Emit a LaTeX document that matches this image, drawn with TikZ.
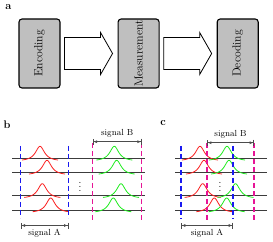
\documentclass[tikz,border=0pt]{standalone}
\usepackage{graphicx}
\usepackage{tikz}
\usetikzlibrary{arrows.meta, positioning, calc}
\definecolor{pulser}{RGB}{250,30,30}
\definecolor{pulseg}{RGB}{30,235,30}
\definecolor{edgeb}{RGB}{25,25,240}
\definecolor{edgem}{RGB}{230,20,150}
\definecolor{railc}{RGB}{60,60,60}
\newcommand{\pulse}[3]{%
  \draw[#3, line width=0.8pt] plot[domain=-18:18, samples=61, smooth]
    ({#1+\x}, {#2-3+15/(1+(\x/5.5)^2)});}
\tikzset{
  stage/.style={draw=black, line width=1.1pt, fill=black!25, rounded corners=3pt,
    minimum width=41pt, minimum height=69pt, inner sep=0pt,
    font=\fontsize{11.7}{14}\selectfont},
  flow/.style={draw=black, line width=0.8pt, fill=white},
  rail/.style={railc, line width=0.9pt},
  edgeA/.style={edgeb, line width=1.2pt, dash pattern=on 5pt off 3pt},
  edgeB/.style={edgem, line width=1.2pt, dash pattern=on 5pt off 3pt},
  span/.style={black!70, line width=0.8pt,
    {Bar[width=6pt]Latex[length=3.5pt,width=3pt]}-{Latex[length=3.5pt,width=3pt]Bar[width=6pt]}},
  spanlabel/.style={text=black, font=\fontsize{8.8}{10}\selectfont},
  panel/.style={font=\fontsize{11}{13}\selectfont\bfseries, anchor=base}
}
\begin{document}
\begin{tikzpicture}[x=1pt, y=1pt]
  \useasboundingbox (0,0) rectangle (273,241);
  % a
  \node[panel] (pa) at (8.3,231.7) {a};
  \node[stage] (enc) at (39.5,187.5) {\rotatebox{90}{Encoding}};
  \node[stage, right=57pt of enc] (meas) {\rotatebox{90}{Measurement}};
  \node[stage, right=57pt of meas] (dec) {\rotatebox{90}{Decoding}};
  \draw[flow] ($(enc.east)+(4,16)$) -- ++(36,0) -- ++(0,5) -- ++(12,-21)
    -- ++(-12,-21) -- ++(0,5) -- ++(-36,0) -- cycle;
  \draw[flow] ($(meas.east)+(4,16)$) -- ++(36,0) -- ++(0,5) -- ++(12,-21)
    -- ++(-12,-21) -- ++(0,5) -- ++(-36,0) -- cycle;
  % b
  \node[panel] (pb) at (7,112) {b};
  \foreach \y in {82.7,68.7,45.3,31} \draw[rail] (12,\y) -- (145,\y);
  \pulse{40}{82.7}{pulser}
  \pulse{47}{68.7}{pulser}
  \pulse{42.3}{45.3}{pulser}
  \pulse{50.7}{31}{pulser}
  \pulse{114.3}{82.7}{pulseg}
  \pulse{116.7}{68.7}{pulseg}
  \pulse{121}{45.3}{pulseg}
  \pulse{113.3}{31}{pulseg}
  \node (bdots) at (80,57) {$\vdots$};
  \draw[edgeA] (20.7,95) -- (20.7,23);
  \draw[edgeA] (68.3,95) -- (68.3,23);
  \draw[edgeB] (92.7,98) -- (92.7,20);
  \draw[edgeB] (141.7,98) -- (141.7,20);
  \coordinate (bA1) at (20.7,15.5);
  \coordinate (bA2) at (68.3,15.5);
  \coordinate (bB1) at (92.7,99.3);
  \coordinate (bB2) at (141.7,99.3);
  \draw[span] (bA1) -- (bA2) node[spanlabel, midway, yshift=-7.5pt] {signal A};
  \draw[span] (bB1) -- (bB2) node[spanlabel, midway, yshift=8pt] {signal B};
  % c
  \node[panel] (pc) at (163,115) {c};
  \foreach \y in {82.7,68.7,45.3,31} \draw[rail] (175,\y) -- (267.3,\y);
  \pulse{200}{82.7}{pulser}
  \pulse{204}{68.7}{pulser}
  \pulse{202.7}{45.3}{pulser}
  \pulse{214.3}{31}{pulser}
  \pulse{227}{82.7}{pulseg}
  \pulse{229}{68.7}{pulseg}
  \pulse{235.5}{45.3}{pulseg}
  \pulse{226.7}{31}{pulseg}
  \node (cdots) at (220,57) {$\vdots$};
  \draw[edgeA] (181,95) -- (181,22);
  \draw[edgeA] (233,95) -- (233,22);
  \draw[edgeB] (207,98) -- (207,20);
  \draw[edgeB] (254,98) -- (254,20);
  \coordinate (cA1) at (181,15.5);
  \coordinate (cA2) at (233,15.5);
  \coordinate (cB1) at (207,98.3);
  \coordinate (cB2) at (254,98.3);
  \draw[span] (cA1) -- (cA2) node[spanlabel, midway, yshift=-7.5pt] {signal A};
  \draw[span] (cB1) -- (cB2) node[spanlabel, midway, yshift=8pt] {signal B};
\end{tikzpicture}
\end{document}
